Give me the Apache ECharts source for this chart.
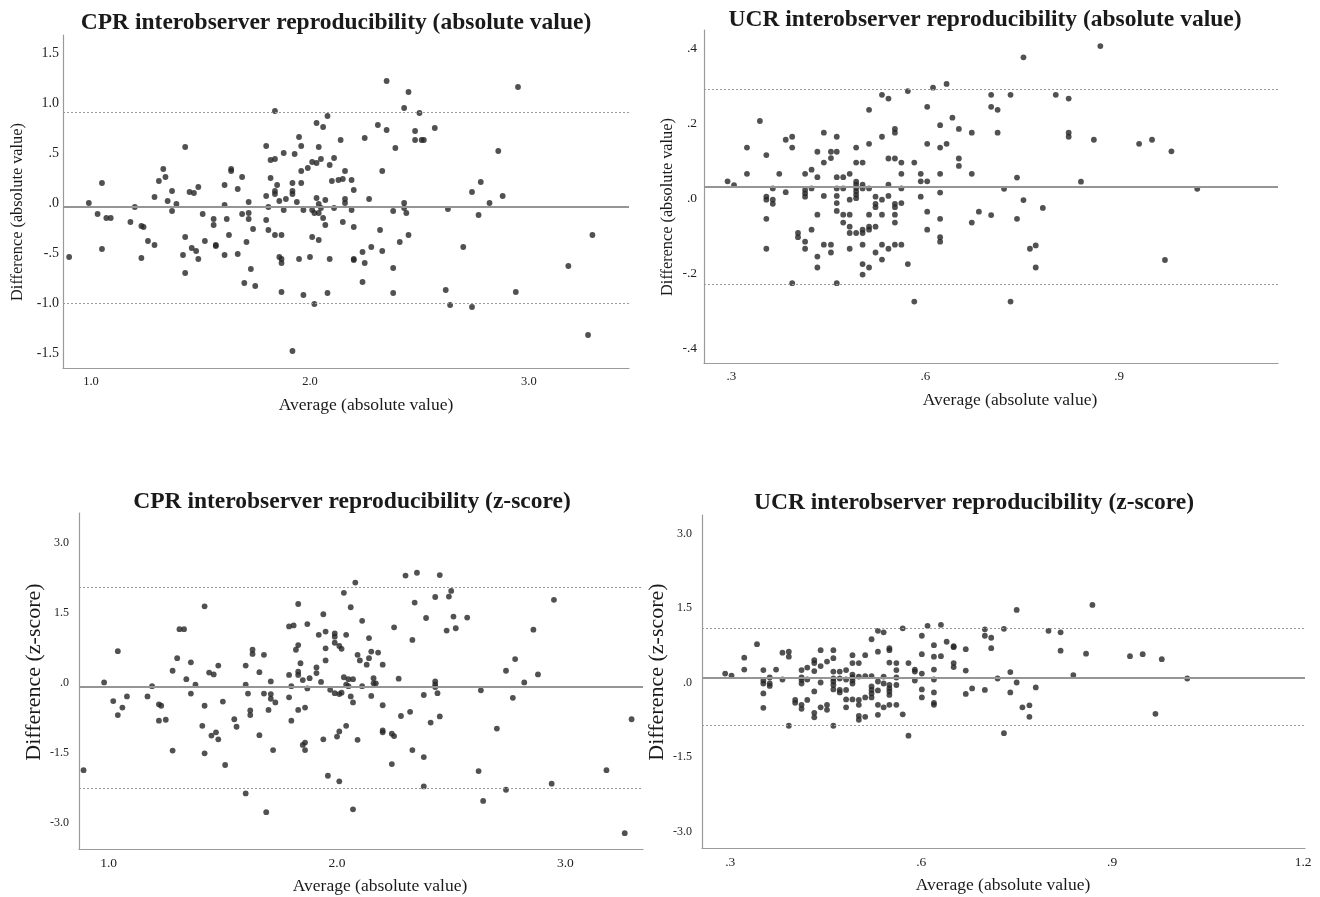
<!DOCTYPE html>
<html>
<head>
<meta charset="utf-8">
<title>Interobserver reproducibility</title>
<script src="https://cdn.jsdelivr.net/npm/echarts@6/dist/echarts.min.js"></script>
<style>
  html, body { margin: 0; padding: 0; background: #fff; }
  #main { width: 1320px; height: 897px; }
</style>
</head>
<body>
<div id="main"></div>
<script>
// ---- data: [average, difference] ----
var cprAbsPoints = [
  [0.90,-0.54],[0.99,0.00],[1.03,-0.11],[1.05,0.20],[1.05,-0.46],[1.07,-0.15],[1.09,-0.15],[1.18,-0.19],[1.20,-0.04],[1.23,-0.23],
  [1.24,-0.24],[1.23,-0.55],[1.26,-0.38],[1.29,-0.42],[1.29,0.06],[1.31,0.22],[1.33,0.34],[1.34,0.26],[1.35,0.02],[1.37,0.12],
  [1.37,-0.08],[1.39,-0.01],[1.42,-0.52],[1.43,0.56],[1.43,-0.34],[1.43,-0.70],[1.45,0.11],[1.47,0.10],[1.46,-0.45],[1.48,-0.48],
  [1.49,0.16],[1.49,-0.56],[1.51,-0.11],[1.52,-0.38],[1.56,-0.16],[1.56,-0.22],[1.57,-0.42],[1.57,-0.43],[1.61,0.18],[1.61,-0.02],
  [1.61,-0.52],[1.62,-0.16],[1.63,-0.32],[1.64,0.34],[1.64,0.32],[1.67,0.14],[1.67,-0.51],[1.69,0.26],[1.69,-0.11],[1.70,-0.80],
  [1.71,-0.39],[1.72,0.01],[1.72,-0.10],[1.72,-0.16],[1.73,-0.66],[1.74,-0.26],[1.75,-0.83],[1.80,0.57],[1.80,0.07],[1.80,-0.17],
  [1.81,-0.04],[1.81,-0.27],[1.82,0.43],[1.82,0.25],[1.84,0.92],[1.84,0.44],[1.84,0.12],[1.84,0.09],[1.84,-0.32],[1.85,0.18],
  [1.86,0.02],[1.86,-0.54],[1.87,-0.32],[1.87,-0.56],[1.87,-0.60],[1.87,-0.89],[1.88,0.50],[1.88,-0.07],[1.89,0.04],[1.92,0.20],
  [1.92,0.12],[1.92,0.09],[1.92,-1.48],[1.93,0.49],[1.94,0.01],[1.95,0.66],[1.95,-0.56],[1.96,0.57],[1.96,0.32],[1.96,0.20],
  [1.97,-0.92],[1.97,-0.07],[1.99,0.35],[2.00,-0.54],[2.01,0.41],[2.01,-0.34],[2.01,-0.07],[2.02,-0.10],[2.02,-1.01],[2.03,0.40],
  [2.03,0.80],[2.03,0.05],[2.04,-0.10],[2.04,0.56],[2.04,-0.37],[2.04,-0.01],[2.05,0.44],[2.05,-0.05],[2.06,0.76],[2.06,-0.15],
  [2.07,0.03],[2.07,-0.22],[2.08,-0.90],[2.08,0.87],[2.09,0.38],[2.09,-0.56],[2.10,0.22],[2.11,0.45],[2.11,-0.05],[2.13,0.23],
  [2.14,0.63],[2.35,1.22],[2.45,1.11],[2.95,1.16],[2.43,0.95],[2.50,0.90],[2.31,0.78],[2.35,0.73],[2.48,0.72],[2.57,0.75],
  [2.25,0.65],[2.48,0.63],[2.51,0.63],[2.52,0.63],[2.39,0.55],[2.86,0.52],[2.33,0.32],[2.16,0.32],[2.15,0.24],[2.19,0.23],
  [2.20,0.13],[2.78,0.21],[2.74,0.11],[2.88,0.07],[2.27,0.04],[2.16,0.04],[2.16,0.00],[2.19,-0.07],[2.43,0.00],[2.43,-0.05],
  [2.38,-0.08],[2.44,-0.10],[2.63,-0.06],[2.82,0.00],[2.77,-0.12],[2.15,-0.19],[2.20,-0.24],[2.32,-0.27],[2.45,-0.32],[2.41,-0.39],
  [3.29,-0.32],[2.28,-0.44],[2.70,-0.44],[2.20,-0.56],[2.20,-0.57],[2.24,-0.49],[2.25,-0.60],[2.33,-0.48],[2.38,-0.65],[3.18,-0.63],
  [2.24,-0.79],[2.38,-0.90],[2.62,-0.87],[2.94,-0.89],[2.64,-1.02],[2.74,-1.04],[3.27,-1.32]
];
var ucrAbsPoints = [
  [0.294,0.045],[0.304,0.035],[0.324,0.135],[0.324,0.065],[0.344,0.206],[0.354,0.115],[0.354,0.004],[0.354,-0.004],[0.354,-0.055],[0.354,-0.135],
  [0.364,0.026],[0.364,-0.004],[0.364,-0.015],[0.374,0.065],[0.384,0.016],[0.384,0.156],[0.394,0.164],[0.394,0.135],[0.394,-0.227],[0.403,-0.093],
  [0.403,-0.104],[0.414,0.065],[0.414,0.022],[0.414,0.013],[0.414,0.004],[0.414,-0.116],[0.414,-0.135],[0.424,0.076],[0.424,0.026],[0.424,-0.084],
  [0.433,0.124],[0.433,0.056],[0.433,-0.044],[0.433,-0.156],[0.433,-0.185],[0.443,0.175],[0.443,0.095],[0.443,0.006],[0.443,-0.124],[0.454,0.107],
  [0.454,0.124],[0.454,-0.124],[0.454,-0.145],[0.463,0.164],[0.463,0.124],[0.463,0.056],[0.463,0.026],[0.463,0.006],[0.463,-0.013],[0.463,-0.034],
  [0.463,-0.227],[0.473,0.056],[0.473,0.026],[0.473,-0.044],[0.473,-0.065],[0.483,0.065],[0.483,-0.004],[0.483,-0.044],[0.483,-0.076],[0.483,-0.093],
  [0.483,-0.135],[0.493,0.135],[0.493,0.095],[0.493,0.044],[0.493,0.036],[0.493,0.027],[0.493,0.018],[0.493,0.009],[0.493,0.000],[0.493,-0.093],
  [0.503,0.095],[0.503,0.036],[0.503,0.026],[0.503,-0.084],[0.503,-0.093],[0.503,-0.124],[0.503,-0.176],[0.503,-0.204],[0.513,0.236],[0.513,0.145],
  [0.513,0.026],[0.513,-0.044],[0.513,-0.076],[0.513,-0.084],[0.513,-0.185],[0.523,0.004],[0.523,-0.015],[0.523,-0.024],[0.523,-0.076],[0.523,-0.145],
  [0.533,0.276],[0.533,0.164],[0.533,-0.004],[0.533,-0.044],[0.533,-0.124],[0.533,-0.164],[0.543,0.266],[0.543,0.106],[0.543,0.036],[0.543,0.006],
  [0.543,-0.135],[0.553,0.185],[0.553,0.175],[0.553,0.106],[0.553,-0.015],[0.553,-0.024],[0.553,-0.044],[0.553,-0.065],[0.553,-0.124],[0.563,0.095],
  [0.563,0.065],[0.563,0.026],[0.563,-0.013],[0.563,-0.124],[0.573,0.286],[0.573,-0.176],[0.583,0.095],[0.583,-0.276],[0.593,0.065],[0.593,0.045],
  [0.593,0.004],[0.603,0.045],[0.603,0.244],[0.603,0.145],[0.603,-0.036],[0.603,-0.084],[0.612,0.295],[0.623,0.195],[0.623,0.135],[0.623,0.065],
  [0.623,0.015],[0.623,-0.055],[0.623,-0.104],[0.623,-0.116],[0.633,0.305],[0.633,0.145],[0.642,0.215],[0.652,0.185],[0.652,0.106],[0.652,0.086],
  [0.672,0.175],[0.672,0.065],[0.672,-0.065],[0.683,-0.036],[0.702,0.276],[0.702,0.244],[0.712,0.236],[0.712,0.175],[0.702,-0.045],[0.722,0.025],
  [0.732,0.276],[0.742,0.055],[0.742,-0.055],[0.752,0.376],[0.752,-0.005],[0.762,-0.135],[0.771,-0.126],[0.771,-0.185],[0.782,-0.026],[0.732,-0.276],
  [0.802,0.276],[0.822,0.266],[0.822,0.175],[0.822,0.164],[0.841,0.044],[0.861,0.156],[0.871,0.406],[0.931,0.145],[0.951,0.156],[0.971,-0.165],
  [0.981,0.125],[1.021,0.025]
];
var cprZPoints = [
  [0.89,-1.88],[0.98,0.00],[1.02,-0.40],[1.04,0.67],[1.04,-0.70],[1.06,-0.54],[1.08,-0.30],[1.17,-0.30],[1.19,-0.08],[1.22,-0.47],
  [1.23,-0.50],[1.22,-0.82],[1.25,-0.80],[1.28,0.25],[1.28,-1.46],[1.30,0.52],[1.31,1.14],[1.33,1.14],[1.34,0.07],[1.36,0.43],
  [1.36,-0.24],[1.38,-0.05],[1.41,-0.93],[1.42,1.63],[1.42,-0.50],[1.42,-1.52],[1.44,0.21],[1.46,0.17],[1.45,-1.14],[1.47,-1.07],
  [1.48,0.36],[1.48,-1.22],[1.50,-0.41],[1.51,-1.77],[1.55,-0.79],[1.56,-0.95],[1.60,0.36],[1.60,-0.05],[1.60,-2.38],[1.61,-0.24],
  [1.62,-0.60],[1.62,-0.70],[1.63,0.70],[1.63,0.61],[1.66,0.22],[1.66,-1.13],[1.68,0.59],[1.68,-0.24],[1.69,-2.78],[1.70,-0.59],
  [1.71,0.02],[1.71,-0.25],[1.71,-0.35],[1.72,-1.45],[1.73,-0.43],[1.79,0.16],[1.79,-0.32],[1.79,1.20],[1.81,1.22],[1.80,-0.08],
  [1.80,-0.82],[1.82,0.70],[1.83,1.68],[1.83,0.80],[1.83,0.23],[1.83,0.16],[1.83,-0.59],[1.84,0.41],[1.85,0.05],[1.85,-1.34],
  [1.86,-1.45],[1.86,-1.29],[1.86,-0.54],[1.87,1.25],[1.87,-0.13],[1.88,0.09],[1.91,0.32],[1.91,0.20],[1.92,1.02],[1.93,0.01],
  [1.94,1.46],[1.94,-1.22],[1.95,1.09],[1.95,0.73],[1.95,0.47],[1.96,-2.00],[1.97,-0.16],[1.99,1.05],[1.99,0.98],[1.99,0.85],
  [1.99,-0.23],[2.00,-1.16],[2.01,-1.05],[2.01,-2.12],[2.01,0.78],[2.02,0.72],[2.02,-0.22],[2.01,-0.25],[2.03,1.92],[2.03,0.11],
  [2.04,1.02],[2.04,-0.05],[2.05,-0.08],[2.04,-0.93],[2.05,0.07],[2.06,1.61],[2.06,-0.30],[2.07,0.07],[2.07,-0.43],[2.07,-2.72],
  [2.08,2.14],[2.09,0.59],[2.09,-1.23],[2.10,0.47],[2.11,1.32],[2.11,-0.08],[2.13,0.38],[2.14,0.95],[2.14,0.52],[2.15,0.66],
  [2.15,-0.29],[2.16,0.09],[2.16,-0.02],[2.17,-0.02],[2.18,0.64],[2.20,0.38],[2.20,-0.49],[2.20,-1.03],[2.20,-1.07],[2.24,-1.10],
  [2.25,-1.15],[2.24,-1.75],[2.25,1.18],[2.27,0.08],[2.28,-0.72],[2.30,2.29],[2.32,-0.63],[2.33,0.91],[2.33,-1.45],[2.34,1.71],
  [2.35,2.35],[2.38,-0.27],[2.38,-1.60],[2.38,-2.23],[2.39,1.38],[2.41,-0.86],[2.43,1.83],[2.43,0.02],[2.43,-0.05],[2.43,-0.10],
  [2.44,-0.23],[2.45,2.30],[2.45,-0.73],[2.48,1.11],[2.49,1.84],[2.50,1.96],[2.51,1.41],[2.52,1.16],[2.57,1.39],[2.62,-1.90],
  [2.63,-0.17],[2.64,-2.54],[2.70,-0.99],[2.74,0.25],[2.74,-2.30],[2.77,-0.33],[2.78,0.50],[2.82,0.00],[2.86,1.13],[2.88,0.17],
  [2.94,-2.17],[2.95,1.77],[3.18,-1.88],[3.26,-3.23],[3.29,-0.79]
];
var ucrZPoints = [
  [0.292,0.18],[0.302,0.14],[0.322,0.50],[0.322,0.26],[0.342,0.77],[0.352,0.25],[0.352,0.04],[0.352,-0.02],[0.352,-0.22],[0.352,-0.51],
  [0.362,0.10],[0.362,-0.02],[0.362,-0.07],[0.372,0.26],[0.382,0.06],[0.382,0.60],[0.392,0.62],[0.392,0.52],[0.392,-0.87],[0.402,-0.35],
  [0.402,-0.41],[0.412,0.25],[0.412,0.10],[0.412,0.05],[0.412,-0.02],[0.412,-0.45],[0.412,-0.53],[0.421,0.30],[0.421,0.06],[0.421,-0.35],
  [0.432,0.45],[0.432,0.39],[0.432,0.23],[0.432,-0.18],[0.432,-0.61],[0.432,-0.70],[0.442,0.65],[0.442,0.33],[0.442,0.00],[0.442,-0.50],
  [0.452,0.42],[0.452,-0.45],[0.452,-0.55],[0.462,0.65],[0.462,0.49],[0.462,0.22],[0.462,0.08],[0.462,0.02],[0.462,-0.05],[0.462,-0.14],
  [0.462,-0.87],[0.472,0.22],[0.472,0.08],[0.472,-0.15],[0.472,-0.20],[0.482,0.25],[0.482,0.06],[0.482,-0.15],[0.482,-0.34],[0.482,-0.50],
  [0.492,0.55],[0.492,0.39],[0.492,0.16],[0.492,0.10],[0.492,0.04],[0.492,-0.02],[0.492,-0.34],[0.502,0.39],[0.502,0.12],[0.502,-0.35],
  [0.502,-0.45],[0.502,-0.67],[0.502,-0.75],[0.512,0.55],[0.512,0.13],[0.512,-0.30],[0.512,-0.69],[0.522,0.87],[0.522,0.13],[0.522,-0.08],
  [0.522,-0.15],[0.522,-0.22],[0.522,-0.30],[0.532,1.04],[0.532,0.62],[0.532,0.02],[0.532,-0.16],[0.532,-0.45],[0.532,-0.65],[0.541,1.01],
  [0.541,0.12],[0.541,-0.02],[0.541,-0.50],[0.550,0.40],[0.550,0.69],[0.550,0.65],[0.550,-0.05],[0.550,-0.12],[0.550,-0.18],[0.550,-0.25],
  [0.550,-0.45],[0.561,0.39],[0.561,0.25],[0.561,0.10],[0.561,-0.05],[0.561,-0.45],[0.571,1.09],[0.571,-0.64],[0.580,0.39],[0.580,-1.07],
  [0.590,0.26],[0.590,0.22],[0.590,0.04],[0.601,0.94],[0.601,0.57],[0.601,0.18],[0.601,-0.14],[0.601,-0.30],[0.610,1.14],[0.620,0.75],
  [0.620,0.52],[0.620,0.26],[0.620,0.06],[0.620,-0.20],[0.620,-0.41],[0.620,-0.45],[0.631,1.16],[0.631,0.53],[0.640,0.82],[0.651,0.73],
  [0.651,0.71],[0.651,0.39],[0.651,0.31],[0.670,0.67],[0.670,0.24],[0.670,-0.23],[0.680,-0.12],[0.700,1.07],[0.700,0.94],[0.700,-0.15],
  [0.710,0.90],[0.710,0.69],[0.720,0.08],[0.730,1.08],[0.730,-1.02],[0.740,0.21],[0.740,-0.20],[0.750,1.46],[0.750,0.00],[0.759,-0.50],
  [0.770,-0.46],[0.770,-0.69],[0.780,-0.10],[0.800,1.04],[0.819,1.01],[0.819,0.64],[0.839,0.15],[0.859,0.58],[0.869,1.56],[0.928,0.53],
  [0.948,0.57],[0.968,-0.63],[0.978,0.47],[1.018,0.08]
];

// mean difference, upper and lower limits of agreement
var cprAbsLines = [-0.045, 0.91, -1.00];
var ucrAbsLines = [0.027, 0.286, -0.225];
var cprZLines = [-0.10, 2.04, -2.27];
var ucrZLines = [0.104, 1.09, -0.87];

// tick labels
var cprXTicks = [1, 2, 3];
var ucrXTicks = [0.3, 0.6, 0.9];
var ucrZXTicks = [0.3, 0.6, 0.9, 1.2];
var cprAbsYTicks = [-1.5, -1, -0.5, 0, 0.5, 1, 1.5];
var ucrAbsYTicks = [-0.4, -0.2, 0, 0.2, 0.4];
var zYTicks = [-3, -1.5, 0, 1.5, 3];

var titles = [
  'CPR interobserver reproducibility (absolute value)',
  'UCR interobserver reproducibility (absolute value)',
  'CPR interobserver reproducibility (z-score)',
  'UCR interobserver reproducibility (z-score)'
];
var yNames = ['Difference (absolute value)', 'Difference (absolute value)', 'Difference (z-score)', 'Difference (z-score)'];
var xName = 'Average (absolute value)';

// layout of the four panels (pixel positions of texts are layout, not data)
var panels = [
  { grid: {left: 63, top: 35, width: 566, height: 333}, x: [0.872, 3.457], y: [-1.65, 1.68],
    xt: cprXTicks, yt: cprAbsYTicks, pts: cprAbsPoints, lines: cprAbsLines,
    titlePos: [336, 23], yNamePos: [18, 212], yNameSize: 16.3, xNamePos: [366, 405],
    yLabSize: 14, xLabSize: 12.5, yMargin: 4 },
  { grid: {left: 704, top: 30, width: 574, height: 333}, x: [0.2575, 1.146], y: [-0.44, 0.449],
    xt: ucrXTicks, yt: ucrAbsYTicks, pts: ucrAbsPoints, lines: ucrAbsLines,
    titlePos: [985, 20], yNamePos: [668, 207], yNameSize: 16.3, xNamePos: [1010, 400],
    yLabSize: 13.5, xLabSize: 13, yMargin: 7 },
  { grid: {left: 79, top: 513, width: 564, height: 336}, x: [0.87, 3.34], y: [-3.57, 3.63],
    xt: cprXTicks, yt: zYTicks, pts: cprZPoints, lines: cprZLines,
    titlePos: [352, 502], yNamePos: [34, 672], yNameSize: 22, xNamePos: [380, 886],
    yLabSize: 12, xLabSize: 13.5, yMargin: 10 },
  { grid: {left: 702, top: 515, width: 603, height: 333}, x: [0.2556, 1.203], y: [-3.33, 3.37],
    xt: ucrZXTicks, yt: zYTicks, pts: ucrZPoints, lines: ucrZLines,
    titlePos: [974, 503], yNamePos: [657, 672], yNameSize: 22, xNamePos: [1003, 885],
    yLabSize: 12, xLabSize: 13.5, yMargin: 10 }
];

var FONT = '"Liberation Serif", "Times New Roman", serif';

function spss(v) {
  var s = Math.abs(v) < 1e-9 ? '0.0' : v.toFixed(1);
  return s.replace(/^(-?)0\./, '$1.');
}

function label(text, pos, font, rotate) {
  return {
    type: 'text', x: pos[0], y: pos[1], rotation: rotate ? Math.PI / 2 : 0, silent: true,
    style: { text: text, font: font, fill: '#1a1a1a', align: 'center', verticalAlign: 'middle' }
  };
}

var option = { animation: false, backgroundColor: '#fff', graphic: [], grid: [], xAxis: [], yAxis: [], series: [] };

panels.forEach(function (p, i) {
  option.graphic.push(label(titles[i], p.titlePos, 'bold 23.5px ' + FONT, false));
  option.graphic.push(label(yNames[i], p.yNamePos, p.yNameSize + 'px ' + FONT, true));
  option.graphic.push(label(xName, p.xNamePos, '17.5px ' + FONT, false));
  option.grid.push(p.grid);
  option.xAxis.push({
    gridIndex: i, type: 'value', min: p.x[0], max: p.x[1],
    axisLine: { show: true, onZero: false, lineStyle: { color: '#9a9a9a', width: 1.2 } },
    axisTick: { show: false },
    splitLine: { show: false },
    axisLabel: { customValues: p.xt, formatter: spss, margin: 7, fontFamily: FONT, fontSize: p.xLabSize, color: '#222' }
  });
  option.yAxis.push({
    gridIndex: i, type: 'value', min: p.y[0], max: p.y[1],
    axisLine: { show: true, onZero: false, lineStyle: { color: '#9a9a9a', width: 1.2 } },
    axisTick: { show: false },
    splitLine: { show: false },
    axisLabel: { customValues: p.yt, formatter: spss, margin: p.yMargin, fontFamily: FONT, fontSize: p.yLabSize, color: '#222' }
  });
  option.series.push({
    type: 'scatter', xAxisIndex: i, yAxisIndex: i, data: p.pts,
    symbol: 'circle', symbolSize: 5.8,
    itemStyle: { color: '#262626' },
    markLine: {
      silent: true, symbol: ['none', 'none'], label: { show: false },
      data: [
        { yAxis: p.lines[0], lineStyle: { color: '#959595', width: 2, type: 'solid' } },
        { yAxis: p.lines[1], lineStyle: { color: '#9a9a9a', width: 1, type: [2, 2] } },
        { yAxis: p.lines[2], lineStyle: { color: '#9a9a9a', width: 1, type: [2, 2] } }
      ]
    }
  });
});

var chart = echarts.init(document.getElementById('main'));
chart.setOption(option);
</script>
</body>
</html>
